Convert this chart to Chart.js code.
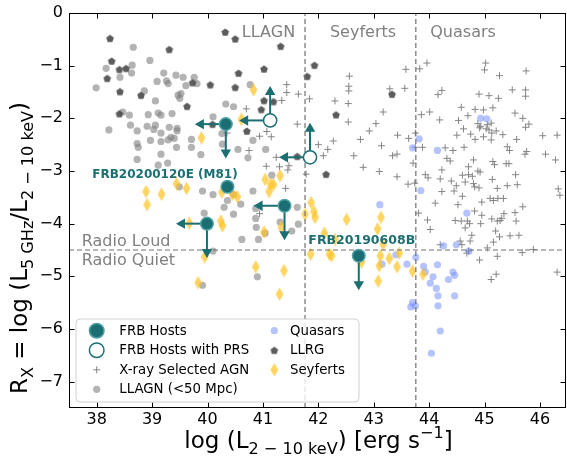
<!DOCTYPE html>
<html><head><meta charset="utf-8">
<script src="https://cdn.jsdelivr.net/npm/chart.js@4/dist/chart.umd.min.js"></script>
<style>html,body{margin:0;padding:0;background:#fff;}canvas{display:block;}</style>
</head><body>
<canvas id="c" width="567" height="456"></canvas>
<script>
// ---------- axis ticks ----------
const xTicks = [38, 39, 40, 41, 42, 43, 44, 45, 46];
const yTicks = [0, -1, -2, -3, -4, -5, -6, -7];
const X_MIN = 37.5, X_MAX = 46.47, Y_MIN = -7.5, Y_MAX = 0;

// ---------- class boundaries ----------
const classBoundariesX = [41.76, 43.76];   // LLAGN | Seyferts | Quasars
const radioLoudBoundaryY = -4.5;

// ---------- FRB hosts ----------
const frbHostX = [40.33, 40.36, 41.39, 39.99, 42.73];
const frbHostY = [-2.11, -3.30, -3.66, -4.00, -4.61];
const frbHostXUpper = [true, false, true, true, false];
const frbHostYUpper = [true, false, true, true, true];

const prsX = [41.13, 41.85];
const prsY = [-2.04, -2.74];
const prsXUpper = [true, true];
const prsYLower = [true, true];

// ---------- X-ray selected AGN ----------
const xrayX = [41.43,41.43,41.64,41.34,40.70,41.62,40.94,41.07,41.15,40.35,40.75,41.24,41.06,41.30,41.47,41.45,41.41,40.94,
41.84,42.56,42.55,42.55,42.30,42.54,42.54,43.58,43.56,43.29,43.17,43.04,42.92,42.00,42.27,42.17,42.09,42.76,42.64,42.81,
43.14,43.43,43.63,43.34,43.42,43.10,43.42,43.71,43.75,43.62,43.74,41.78,43.75,43.83,43.96,43.86,44.01,44.16,44.23,43.88,
44.19,44.29,44.43,44.32,44.38,44.53,44.58,44.70,44.83,44.98,45.15,44.62,44.75,44.50,44.88,44.93,45.05,45.12,44.91,45.03,
45.08,45.13,45.21,45.33,44.83,44.98,45.12,44.90,45.08,45.25,45.02,45.00,45.27,45.75,45.50,45.74,45.74,45.55,45.69,45.80,
45.74,45.41,45.45,45.58,46.05,46.31,45.73,45.76,46.10,46.28,44.63,43.93,43.98,44.23,44.20,44.40,44.23,44.11,43.81,43.97,
44.02,44.71,44.80,44.60,44.71,44.78,44.65,44.80,44.82,44.90,44.49,44.45,44.60,44.52,44.88,44.92,45.15,45.18,45.39,45.44,
45.56,45.14,45.23,45.41,45.59,44.95,45.10,45.16,45.24,45.34,44.82,44.95,44.47,44.58,44.69,44.73,44.65,44.93,45.13,45.23,
45.28,45.31,45.35,45.55,45.57,45.69,45.20,45.27,45.46,45.62,44.77,44.56,44.59,44.74,45.16,45.05,44.68,44.71,44.91,45.23,
44.20,45.68,45.88,46.33,46.36,45.12,45.21,46.31];
const xrayY = [-1.36,-1.51,-1.54,-1.66,-1.82,-2.11,-2.34,-2.25,-2.35,-2.28,-2.61,-2.74,-2.91,-2.92,-2.90,-2.98,-3.33,-3.81,
-1.63,-1.20,-1.39,-1.48,-1.67,-1.72,-2.07,-1.07,-1.43,-1.44,-1.88,-2.10,-2.24,-2.50,-2.43,-2.59,-2.71,-2.40,-2.71,-2.93,
-2.52,-2.32,-2.38,-2.71,-2.68,-3.01,-3.11,-2.85,-2.28,-3.25,-3.23,-3.06,-2.55,-1.06,-0.95,-1.93,-1.88,-1.55,-1.47,-2.55,
-2.03,-2.56,-2.61,-2.76,-2.81,-2.04,-1.79,-1.95,-1.83,-1.84,-1.80,-2.20,-2.30,-2.32,-2.10,-2.15,-2.12,-2.09,-2.18,-2.20,
-2.22,-2.28,-2.24,-2.31,-2.40,-2.35,-2.41,-1.54,-1.57,-1.62,-0.95,-1.08,-1.19,-1.10,-1.46,-1.46,-1.58,-1.90,-2.00,-2.11,
-2.17,-2.54,-2.61,-2.40,-2.33,-2.32,-2.68,-2.63,-2.68,-2.79,-2.55,-3.07,-3.13,-2.98,-3.15,-3.19,-3.39,-3.61,-3.80,-3.93,
-4.11,-2.92,-2.79,-3.08,-3.07,-3.10,-3.21,-3.24,-3.30,-3.32,-3.28,-3.38,-3.48,-3.64,-3.00,-3.02,-2.82,-2.88,-2.86,-2.86,
-3.07,-3.16,-3.33,-3.28,-3.26,-3.59,-3.52,-3.56,-3.52,-3.52,-3.76,-3.84,-3.94,-3.95,-3.95,-4.00,-4.08,-4.00,-3.91,-3.95,
-3.94,-3.90,-3.81,-3.79,-3.95,-3.68,-4.14,-4.25,-4.23,-4.22,-4.22,-4.33,-4.40,-4.33,-4.35,-4.46,-4.56,-4.52,-4.69,-4.62,
-4.40,-4.55,-4.49,-3.34,-3.46,-5.06,-4.96,-4.92];

// ---------- LLAGN (<50 Mpc) ----------
const llagnX = [38.66,38.96,38.17,38.64,38.63,38.42,37.99,39.21,39.43,39.56,39.76,39.09,39.26,39.29,39.61,39.81,38.86,39.47,39.52,39.50,
39.06,38.47,38.59,38.93,39.11,39.16,39.36,38.61,38.22,38.73,38.91,39.06,39.03,39.31,39.45,39.45,39.16,39.34,39.29,39.40,
39.71,38.97,39.16,38.73,38.75,39.44,39.16,38.73,39.11,39.28,39.88,39.49,39.91,40.10,40.36,40.47,40.60,40.30,40.47,40.82,
40.87,40.87,40.88,41.04,40.92,40.62,39.94,40.10,41.16,41.31,41.52,41.64,41.62,40.90,39.91,40.77,40.33,40.47,40.10,40.26,
40.27,40.55,40.82,41.05,40.73,39.71];
const llagnY = [-0.65,-0.90,-1.05,-0.99,-1.14,-1.22,-1.42,-1.14,-1.18,-1.22,-1.22,-1.30,-1.29,-1.34,-1.38,-1.34,-1.48,-1.56,-1.53,-1.62,
-1.67,-1.88,-1.94,-1.93,-1.90,-1.94,-1.91,-2.13,-2.22,-2.24,-2.15,-2.13,-2.21,-2.17,-2.19,-2.24,-2.28,-2.36,-2.41,-2.38,
-2.40,-2.42,-2.44,-2.48,-2.55,-2.55,-2.68,-2.78,-2.89,-2.85,-2.69,-3.30,-3.38,-3.45,-3.56,-3.45,-3.63,-3.69,-3.82,-3.38,
-3.71,-3.90,-4.07,-4.18,-4.30,-4.30,-3.80,-4.52,-3.08,-3.97,-4.14,-4.01,-3.69,-5.01,-5.17,-1.36,-1.73,-1.78,-1.97,-2.29,
-2.49,-2.59,-2.42,-2.59,-2.75,-2.55];

// ---------- Quasars ----------
const quasarX = [44.93,45.04,43.82,43.70,44.15,43.85,43.11,44.68,44.26,44.49,44.72,43.76,43.40,43.15,43.60,43.90,43.93,44.15,44.07,44.02,
44.13,44.16,44.43,44.46,44.35,44.46,44.16,43.70,43.67,43.75,44.20,44.04];
const quasarY = [-2.00,-2.01,-2.39,-2.56,-2.61,-3.37,-3.64,-3.80,-4.42,-4.40,-4.52,-4.64,-4.59,-4.77,-4.77,-4.81,-4.92,-4.78,-5.01,-5.13,
-5.23,-5.37,-4.92,-4.98,-5.06,-5.37,-5.56,-5.50,-5.58,-5.56,-6.04,-6.46];

// ---------- LLRG ----------
const llrgX = [38.24,40.32,40.50,41.32,39.31,38.27,38.41,38.53,38.19,38.42,38.80,39.73,40.05,40.56,41.02,40.50,39.63,38.41,41.02,41.19,
40.97,40.71,40.09,41.80,41.93,43.33,42.32,41.62,42.14];
const llrgY = [-0.48,-0.36,-0.49,-0.63,-0.69,-0.91,-1.07,-1.05,-1.24,-1.49,-1.56,-1.32,-1.36,-1.14,-1.06,-1.41,-1.77,-1.91,-1.66,-1.68,
-1.83,-2.24,-2.11,-1.20,-0.99,-1.54,-1.93,-2.72,-3.06];

// ---------- Seyferts ----------
const seyfertX = [40.83,40.61,39.89,38.89,38.91,39.17,39.44,39.62,39.67,40.24,40.27,40.26,40.45,40.54,41.04,41.14,41.19,41.31,41.11,41.02,
41.33,41.76,39.95,40.87,41.38,39.83,41.30,41.87,41.92,41.94,42.51,43.13,43.07,42.11,42.30,43.17,41.86,42.20,42.24,42.78,
43.12,43.28,43.10,43.42,43.46,43.70,43.89,43.08];
const seyfertY = [-1.46,-2.02,-2.37,-3.39,-3.64,-3.44,-3.24,-3.33,-3.99,-3.95,-4.04,-3.40,-3.44,-3.49,-3.16,-3.25,-3.26,-3.09,-3.39,-4.16,
-4.07,-3.82,-4.63,-4.82,-4.89,-5.12,-5.34,-3.60,-3.77,-3.88,-3.92,-3.88,-4.10,-4.18,-4.30,-4.39,-4.58,-4.58,-4.61,-4.73,
-4.61,-4.66,-4.80,-4.82,-4.56,-4.90,-4.96,-5.09];

// ---------- text labels ----------
const regionLabels = ['LLAGN', 'Seyferts', 'Quasars'];
const radioLabels = ['Radio Loud', 'Radio Quiet'];
const frbNames = ['FRB20200120E (M81)', 'FRB20190608B'];

// ================= styles / drawing =================
const TEAL = '#1b6e72';
const FONT = '"DejaVu Sans", sans-serif';
const ARROW_DX = 0.45, ARROW_DY = 0.54;
Chart.defaults.font.family = FONT;

function pts(xs, ys) { return xs.map((x, i) => ({ x: x, y: ys[i] })); }

function makePentagon(r, color) {
  const s = Math.ceil(2 * r + 2);
  const c = document.createElement('canvas'); c.width = s; c.height = s;
  const g = c.getContext('2d'); g.fillStyle = color; g.beginPath();
  for (let i = 0; i < 5; i++) {
    const a = -Math.PI / 2 + i * 2 * Math.PI / 5;
    const px = s / 2 + r * Math.cos(a), py = s / 2 + r * Math.sin(a) + r * 0.1;
    if (i) g.lineTo(px, py); else g.moveTo(px, py);
  }
  g.closePath(); g.fill(); return c;
}
function makeDiamond(w, h, color) {
  const c = document.createElement('canvas'); c.width = w; c.height = h;
  const g = c.getContext('2d'); g.fillStyle = color; g.beginPath();
  g.moveTo(w / 2, 0.3); g.lineTo(w - 0.6, h / 2); g.lineTo(w / 2, h - 0.3); g.lineTo(0.6, h / 2);
  g.closePath(); g.fill(); return c;
}
const pentImg = makePentagon(4.0, 'rgba(70,70,70,0.88)');
const diamImg = makeDiamond(9, 14, 'rgba(255,195,35,0.72)');

const COL = {
  xray: '#858585', llagn: 'rgba(128,128,128,0.6)', quasar: 'rgba(120,145,255,0.55)'
};

// arrows for limits
const arrowSets = [];
function addArrow(x0, y0, x1, y1, rot) {
  arrowSets.push({
    data: [{ x: x0, y: y0 }, { x: x1, y: y1 }], showLine: true, borderColor: TEAL, borderWidth: 2,
    pointRadius: [0, 6], pointStyle: 'triangle', pointRotation: [0, rot],
    pointBackgroundColor: TEAL, pointBorderColor: TEAL, pointBorderWidth: 0, order: 3
  });
}
frbHostX.forEach((x, i) => {
  const y = frbHostY[i];
  if (frbHostXUpper[i]) addArrow(x, y, x - ARROW_DX, y, 270);
  if (frbHostYUpper[i]) addArrow(x, y, x, y - ARROW_DY, 180);
});
prsX.forEach((x, i) => {
  const y = prsY[i];
  if (prsXUpper[i]) addArrow(x, y, x - ARROW_DX, y, 270);
  if (prsYLower[i]) addArrow(x, y, x, y + ARROW_DY, 0);
});

const dashSets = [];
classBoundariesX.forEach(b => dashSets.push({ data: [{ x: b, y: Y_MIN }, { x: b, y: Y_MAX }] }));
dashSets.push({ data: [{ x: X_MIN, y: radioLoudBoundaryY }, { x: X_MAX, y: radioLoudBoundaryY }] });
dashSets.forEach(d => Object.assign(d, { showLine: true, borderColor: '#707070', borderWidth: 1.2, borderDash: [5, 3], pointRadius: 0, order: 4 }));

const datasets = [
  { label: 'FRB Hosts', data: pts(frbHostX, frbHostY), pointRadius: 6.3, pointBackgroundColor: TEAL, pointBorderColor: '#4fa3a5', pointBorderWidth: 1.5, order: 1 },
  { label: 'FRB Hosts with PRS', data: pts(prsX, prsY), pointRadius: 6.6, pointBackgroundColor: '#ffffff', pointBorderColor: TEAL, pointBorderWidth: 1.5, order: 2 },
  ...arrowSets, ...dashSets,
  { label: 'Seyferts', data: pts(seyfertX, seyfertY), pointStyle: diamImg, pointRadius: 4, order: 5 },
  { label: 'LLRG', data: pts(llrgX, llrgY), pointStyle: pentImg, pointRadius: 4, order: 6 },
  { label: 'Quasars', data: pts(quasarX, quasarY), pointRadius: 3.6, pointBackgroundColor: COL.quasar, pointBorderWidth: 0, order: 7 },
  { label: 'LLAGN (<50 Mpc)', data: pts(llagnX, llagnY), pointRadius: 3.6, pointBackgroundColor: COL.llagn, pointBorderWidth: 0, order: 8 },
  { label: 'X-ray Selected AGN', data: pts(xrayX, xrayY), pointStyle: 'cross', pointRadius: 3.5, pointBorderColor: COL.xray, pointBorderWidth: 1, order: 9 }
];

function drawRich(ctx, segs, cx, cy, rot, size) {
  const small = size * 0.7;
  ctx.save(); ctx.translate(cx, cy); if (rot) ctx.rotate(rot);
  ctx.textBaseline = 'alphabetic'; ctx.textAlign = 'left'; ctx.fillStyle = '#000';
  let total = 0;
  const ws = segs.map(s => { ctx.font = (s.k === 'n' ? size : small) + 'px ' + FONT; const m = ctx.measureText(s.t).width; total += m; return m; });
  let x = -total / 2;
  segs.forEach((s, i) => {
    ctx.font = (s.k === 'n' ? size : small) + 'px ' + FONT;
    const dy = s.k === 'b' ? size * 0.24 : (s.k === 'p' ? -size * 0.42 : 0);
    ctx.fillText(s.t, x, dy); x += ws[i];
  });
  ctx.restore();
}

function drawMarker(ctx, kind, x, y) {
  ctx.save();
  if (kind === 'frb') { ctx.beginPath(); ctx.arc(x, y, 7.3, 0, 2 * Math.PI); ctx.fillStyle = TEAL; ctx.fill(); ctx.lineWidth = 1.5; ctx.strokeStyle = '#4fa3a5'; ctx.stroke(); }
  else if (kind === 'prs') { ctx.beginPath(); ctx.arc(x, y, 7.3, 0, 2 * Math.PI); ctx.fillStyle = '#fff'; ctx.fill(); ctx.lineWidth = 1.5; ctx.strokeStyle = TEAL; ctx.stroke(); }
  else if (kind === 'xray') { ctx.strokeStyle = COL.xray; ctx.lineWidth = 1; ctx.beginPath(); ctx.moveTo(x - 3.5, y); ctx.lineTo(x + 3.5, y); ctx.moveTo(x, y - 3.5); ctx.lineTo(x, y + 3.5); ctx.stroke(); }
  else if (kind === 'llagn') { ctx.beginPath(); ctx.arc(x, y, 3.6, 0, 2 * Math.PI); ctx.fillStyle = COL.llagn; ctx.fill(); }
  else if (kind === 'quasar') { ctx.beginPath(); ctx.arc(x, y, 3.6, 0, 2 * Math.PI); ctx.fillStyle = COL.quasar; ctx.fill(); }
  else if (kind === 'llrg') { ctx.drawImage(pentImg, x - pentImg.width / 2, y - pentImg.height / 2); }
  else if (kind === 'sey') { ctx.drawImage(diamImg, x - diamImg.width / 2, y - diamImg.height / 2); }
  ctx.restore();
}

const decor = {
  id: 'decor',
  afterDatasetsDraw(chart) {
    const { ctx, chartArea: a, scales: { x: sx, y: sy } } = chart;
    ctx.save();
    const lab = (t, xv, yv, font, color) => {
      ctx.font = font; ctx.fillStyle = color; ctx.textAlign = 'left'; ctx.textBaseline = 'middle';
      ctx.fillText(t, sx.getPixelForValue(xv), sy.getPixelForValue(yv));
    };
    const gf = '16px ' + FONT;
    lab(regionLabels[0], 40.62, -0.38, gf, '#808080');
    lab(regionLabels[1], 42.21, -0.38, gf, '#808080');
    lab(regionLabels[2], 44.02, -0.38, gf, '#808080');
    lab(radioLabels[0], 37.73, -4.35, gf, '#808080');
    lab(radioLabels[1], 37.73, -4.70, gf, '#808080');
    lab(frbNames[0], 37.92, -3.07, 'bold 12px ' + FONT, TEAL);
    lab(frbNames[1], 41.82, -4.32, 'bold 12.5px ' + FONT, TEAL);

    ctx.strokeStyle = '#000'; ctx.lineWidth = 1;
    const L = Math.round(a.left) + 0.5, R = Math.round(a.right) - 0.5, T = Math.round(a.top) + 0.5, B = Math.round(a.bottom) - 0.5;
    ctx.strokeRect(L, T, R - L, B - T);
    ctx.beginPath();
    xTicks.forEach(v => { const p = Math.round(sx.getPixelForValue(v)) + 0.5; ctx.moveTo(p, B); ctx.lineTo(p, B - 5); ctx.moveTo(p, T); ctx.lineTo(p, T + 5); });
    yTicks.forEach(v => { const p = Math.round(sy.getPixelForValue(v)) + 0.5; ctx.moveTo(L, p); ctx.lineTo(L + 5, p); ctx.moveTo(R, p); ctx.lineTo(R - 5, p); });
    ctx.stroke();

    const bx = 76, by = 319, bw = 283, bh = 83, rr = 4;
    ctx.beginPath();
    ctx.moveTo(bx + rr, by); ctx.lineTo(bx + bw - rr, by); ctx.arcTo(bx + bw, by, bx + bw, by + rr, rr);
    ctx.lineTo(bx + bw, by + bh - rr); ctx.arcTo(bx + bw, by + bh, bx + bw - rr, by + bh, rr);
    ctx.lineTo(bx + rr, by + bh); ctx.arcTo(bx, by + bh, bx, by + bh - rr, rr);
    ctx.lineTo(bx, by + rr); ctx.arcTo(bx, by, bx + rr, by, rr); ctx.closePath();
    ctx.fillStyle = 'rgba(255,255,255,0.8)'; ctx.fill();
    ctx.strokeStyle = '#d0d0d0'; ctx.lineWidth = 1; ctx.stroke();
    const items = [
      ['frb', 'FRB Hosts', 0, 0], ['prs', 'FRB Hosts with PRS', 0, 1], ['xray', 'X-ray Selected AGN', 0, 2], ['llagn', 'LLAGN (<50 Mpc)', 0, 3],
      ['quasar', 'Quasars', 1, 0], ['llrg', 'LLRG', 1, 1], ['sey', 'Seyferts', 1, 2]
    ];
    const rowsY = [330.7, 350.2, 369.8, 389.3];
    const mx = [96.7, 274.3], tx = [119.3, 290];
    items.forEach(it => {
      const yy = rowsY[it[3]];
      drawMarker(ctx, it[0], mx[it[2]], yy);
      ctx.font = '13.3px ' + FONT; ctx.fillStyle = '#000'; ctx.textAlign = 'left'; ctx.textBaseline = 'middle';
      ctx.fillText(it[1], tx[it[2]], yy + 0.5);
    });
    ctx.restore();
  },
  afterDraw(chart) {
    const { ctx } = chart;
    drawRich(ctx, [{ t: 'log (L', k: 'n' }, { t: '2 \u2212 10 keV', k: 'b' }, { t: ') [erg s', k: 'n' }, { t: '\u22121', k: 'p' }, { t: ']', k: 'n' }],
      318.5, 448, 0, 23);
    drawRich(ctx, [{ t: 'R', k: 'n' }, { t: 'X', k: 'b' }, { t: ' = log (L', k: 'n' }, { t: '5 GHz', k: 'b' }, { t: '/L', k: 'n' }, { t: '2 \u2212 10 keV', k: 'b' }, { t: ')', k: 'n' }],
      27, 248, -Math.PI / 2, 23);
  }
};

new Chart(document.getElementById('c'), {
  type: 'scatter',
  data: { datasets: datasets },
  options: {
    responsive: false, animation: false, devicePixelRatio: 1, events: [],
    layout: { autoPadding: false, padding: { top: 13, right: 1, left: 0, bottom: 0 } },
    plugins: { legend: { display: false }, tooltip: { enabled: false } },
    scales: {
      x: {
        type: 'linear', min: X_MIN, max: X_MAX,
        grid: { display: false, drawTicks: false }, border: { display: false },
        afterBuildTicks: s => { s.ticks = xTicks.map(v => ({ value: v })); },
        afterFit: s => { s.height = 48; s.paddingLeft = 0; s.paddingRight = 0; },
        ticks: { font: { size: 16, family: FONT }, color: '#000', padding: 2, maxRotation: 0, autoSkip: false, callback: v => String(v) }
      },
      y: {
        type: 'linear', min: Y_MIN, max: Y_MAX,
        grid: { display: false, drawTicks: false }, border: { display: false },
        afterBuildTicks: s => { s.ticks = yTicks.map(v => ({ value: v })); },
        afterFit: s => { s.width = 69; s.paddingTop = 0; s.paddingBottom = 0; },
        ticks: { font: { size: 16, family: FONT }, color: '#000', padding: 6, autoSkip: false, callback: v => (v < 0 ? '\u2212' + (-v) : String(v)) }
      }
    }
  },
  plugins: [decor]
});
</script>
</body></html>
